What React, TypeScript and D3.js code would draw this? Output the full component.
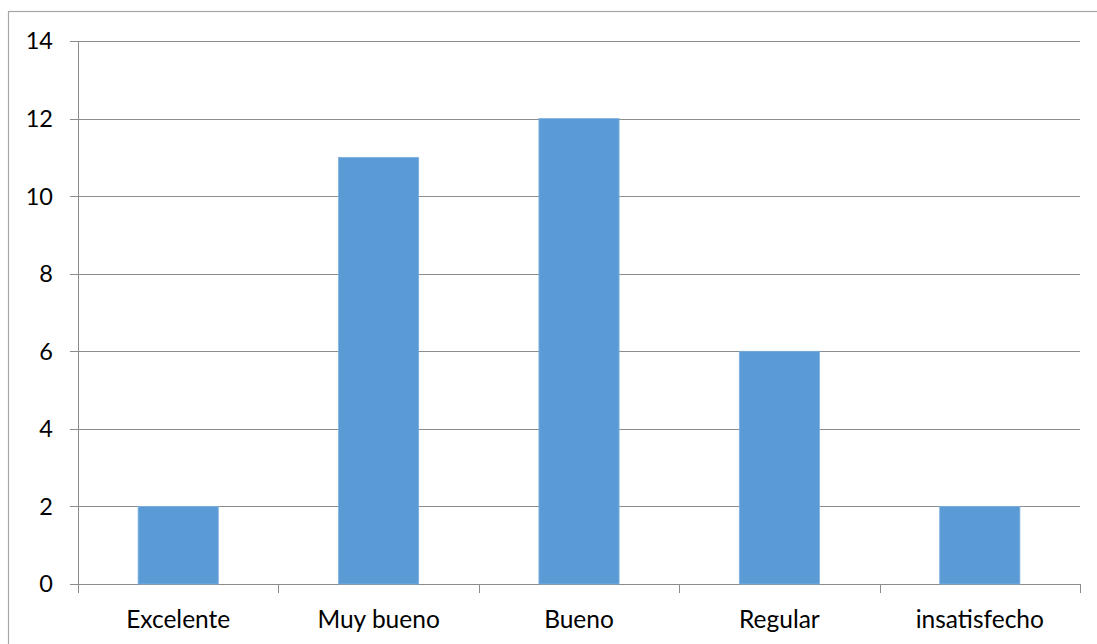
import React from "react";
import * as d3 from "d3";

const categories = ["Excelente", "Muy bueno", "Bueno", "Regular", "insatisfecho"];
const values = [2, 11, 12, 6, 2];
const yTicks = [0, 2, 4, 6, 8, 10, 12, 14];

export default function App() {
  const W = 1097, H = 644;
  const left = 78, right = 1080, top = 41, bottom = 584;
  const x = d3.scaleBand<string>().domain(categories).range([left, right]).paddingInner(0.6).paddingOuter(0.3);
  const xb = d3.scaleBand<string>().domain(categories).range([left, right]);
  const y = d3.scaleLinear().domain([0, 14]).range([bottom, top]);
  const font = "Lato, 'Open Sans', sans-serif";
  return (
    <svg width={W} height={H} style={{ position: "absolute", left: 0, top: 0 }}>
      <rect x={0} y={0} width={W} height={H} fill="#fff" />
      <rect x={8.5} y={11.5} width={W + 10} height={H + 10} fill="none" stroke="#a6a6a6" strokeWidth={1.2} />
      {yTicks.map((t) => (
        <g key={t}>
          <line x1={70} x2={right} y1={Math.round(y(t)) + 0.5} y2={Math.round(y(t)) + 0.5} stroke="#8c8c8c" strokeWidth={1} />
          <text x={53} y={y(t)} dy="0.36em" textAnchor="end" fontFamily={font} fontSize={23.5} fill="#000">{t}</text>
        </g>
      ))}
      <line x1={left + 0.5} x2={left + 0.5} y1={top} y2={bottom + 9} stroke="#8c8c8c" />
      {categories.map((c) => (
        <line key={"t" + c} x1={Math.round(xb(c)! + xb.bandwidth()) + 0.5} x2={Math.round(xb(c)! + xb.bandwidth()) + 0.5} y1={bottom} y2={bottom + 9} stroke="#8c8c8c" />
      ))}
      {categories.map((c, i) => (
        <rect key={c} x={x(c)!} y={y(values[i])} width={x.bandwidth()} height={y(0) - y(values[i])} fill="#5b9bd5" stroke="#7eb1e0" strokeWidth={0.8} />
      ))}
      {categories.map((c) => (
        <text key={"l" + c} x={xb(c)! + xb.bandwidth() / 2} y={628} textAnchor="middle" fontFamily={font} fontSize={24.5} fill="#000">{c}</text>
      ))}
    </svg>
  );
}
